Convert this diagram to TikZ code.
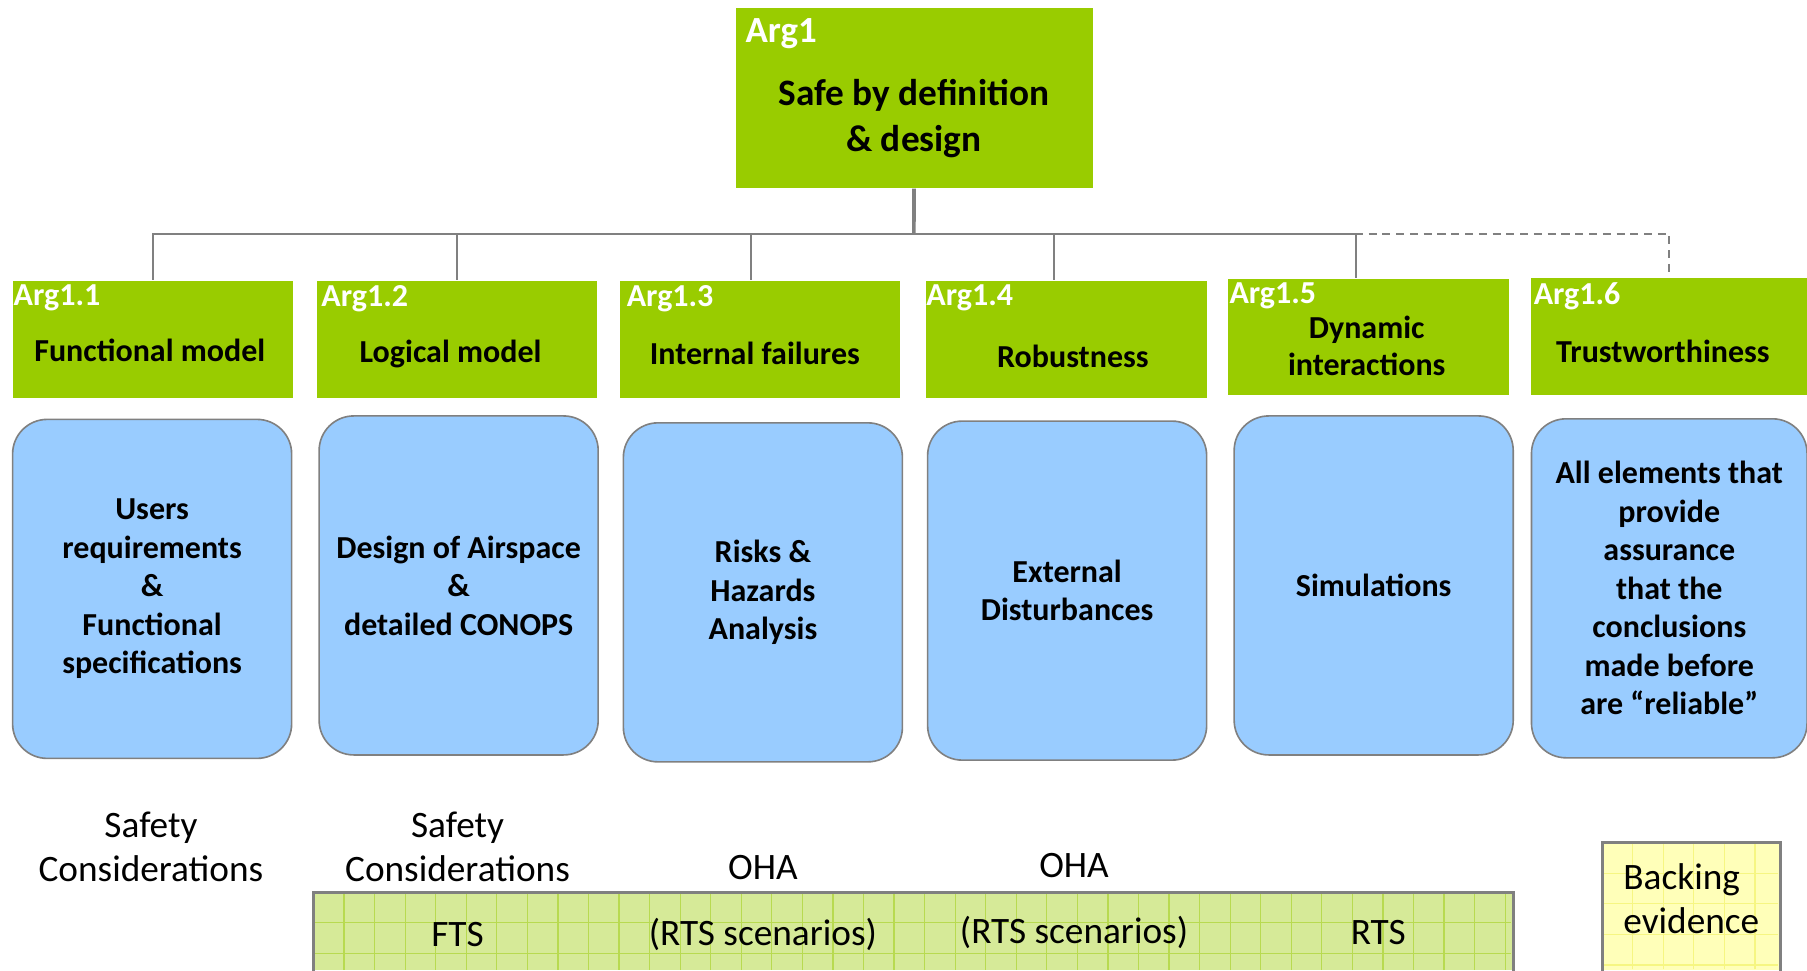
\documentclass[tikz,border=0pt]{standalone}
\usepackage{fontspec}
\setmainfont{Carlito}

\definecolor{argGreen}{RGB}{153,204,0}
\definecolor{evidBlue}{RGB}{153,204,255}
\definecolor{linkGray}{RGB}{128,128,128}
\definecolor{bandGreen}{RGB}{214,234,152}
\definecolor{bandGrid}{RGB}{184,218,80}
\definecolor{backYellow}{RGB}{255,255,185}
\definecolor{backGrid}{RGB}{246,246,130}

\begin{document}
\begin{tikzpicture}[x=0.01cm, y=-0.01cm,
    goal/.style={rectangle, fill=argGreen, inner sep=0pt,
                 minimum width=2.43cm, minimum height=1.01cm},
    arglabel/.style={anchor=north west, text=white, inner xsep=0.01cm,
                     inner ysep=0.035cm,
                     font=\bfseries\fontsize{7.9}{9}\selectfont},
    title/.style={align=center, inner sep=0pt,
                  font=\bfseries\fontsize{7.9}{9.1}\selectfont},
    evidence/.style={rectangle, rounded corners=0.3cm, draw=linkGray,
                     line width=0.4pt, fill=evidBlue, align=center,
                     minimum width=2.42cm, minimum height=2.94cm,
                     font=\bfseries\fontsize{7.9}{9.5}\selectfont},
    note/.style={align=center, inner sep=0pt,
                 font=\fontsize{9.2}{10.8}\selectfont},
    link/.style={draw=linkGray, line width=0.5pt}]

    \useasboundingbox (0,0) rectangle (1568,842);

    % Top argument

    \node (arg1) [goal, minimum width=3.09cm, minimum height=1.56cm]
          at (793.5,85) {};
    \node (arg1lbl) [arglabel, inner xsep=0.08cm, inner ysep=0.09cm,
                     font=\bfseries\fontsize{9.1}{10}\selectfont]
          at (arg1.north west) {Arg1};
    \node (arg1txt) [title, font=\bfseries\fontsize{9.2}{11.4}\selectfont]
          at (793,103) {Safe by definition\\\& design};

    % Sub-arguments

    \node (arg11) [goal] at (132.5,294.5) {};
    \node (arg11lbl) [arglabel] at (arg11.north west) {Arg1.1};
    \node (arg11txt) [title] at (130,304) {Functional model};
    \node (arg12) [goal] at (396.5,294.5) {};
    \node (arg12lbl) [arglabel, inner xsep=0.04cm] at (arg12.north west) {Arg1.2};
    \node (arg12txt) [title] at (391,307) {Logical model};
    \node (arg13) [goal] at (659.5,294.5) {};
    \node (arg13lbl) [arglabel, inner xsep=0.06cm] at (arg13.north west) {Arg1.3};
    \node (arg13txt) [title] at (655,307) {Internal failures};
    \node (arg14) [goal] at (925.5,294.5) {};
    \node (arg14lbl) [arglabel, inner xsep=0pt] at (arg14.north west) {Arg1.4};
    \node (arg14txt) [title] at (931,309) {Robustness};
    \node (arg15) [goal] at (1187.5,292.5) {};
    \node (arg15lbl) [arglabel] at (arg15.north west) {Arg1.5};
    \node (arg15txt) [title] at (1186,300) {Dynamic\\interactions};
    \node (arg16) [goal, minimum width=2.39cm] at (1448.5,292) {};
    \node (arg16lbl) [arglabel, inner xsep=0.02cm] at (arg16.north west) {Arg1.6};
    \node (arg16txt) [title] at (1443,305) {Trustworthiness};

    \coordinate (hub) at (793,203);
    \draw[link, line width=0.9pt] (arg1) -- (hub);
    \draw[link] (hub) -| (arg11);
    \draw[link] (hub) -| (arg12);
    \draw[link] (hub) -| ([xshift=-0.075cm]arg13.north);
    \draw[link] (hub) -| ([xshift=-0.105cm]arg14.north);
    \draw[link] (hub) -| ([xshift=-0.105cm]arg15.north);
    \draw[link, dash pattern=on 2pt off 1.4pt] (hub) -| (arg16);

    % Evidence

    \node (evid11) [evidence] at (132,511)
          {Users\\requirements\\\&\\Functional\\specifications};
    \node (evid12) [evidence] at (398,508)
          {Design of Airspace\\\&\\detailed CONOPS};
    \node (evid13) [evidence] at (662,514) {Risks \&\\Hazards\\Analysis};
    \node (evid14) [evidence] at (926,512.5) {External\\Disturbances};
    \node (evid15) [evidence] at (1192,508) {Simulations};
    \node (evid16) [evidence, minimum width=2.39cm] at (1448.5,510.5)
          {All elements that\\provide\\assurance\\that the\\conclusions\\made before\\are “reliable”};

    % Safety activities

    \node (safety1) [note] at (131,735) {Safety\\Considerations};
    \node (safety2) [note] at (397,735) {Safety\\Considerations};
    \node (oha1) [note] at (662,753) {OHA};
    \node (oha2) [note] at (932,751) {OHA};

    \node (band) [rectangle, fill=bandGreen, inner sep=0pt,
                  minimum width=10.39cm, minimum height=0.67cm]
          at (792.5,808.5) {};
    \begin{scope}[shift={(band.north west)}]
      \draw[bandGrid, line width=0.3pt, step=0.265cm] (0,0) grid (1039,67);
    \end{scope}
    \draw[linkGray, line width=0.8pt] (band.south west) -- (band.north west)
          -- (band.north east) -- (band.south east);
    \node (fts) [note] at (397,811) {FTS};
    \node (rtsA) [note] at (662,811) {(RTS scenarios)};
    \node (rtsB) [note] at (932,809) {(RTS scenarios)};
    \node (rts) [note] at (1196,809) {RTS};

    % Backing evidence

    \node (backing) [rectangle, fill=backYellow, inner sep=0pt,
                     minimum width=1.53cm, minimum height=1.1cm]
          at (1467.5,787) {};
    \begin{scope}[shift={(backing.north west)}]
      \draw[backGrid, line width=0.3pt, step=0.265cm] (0,0) grid (153,110);
    \end{scope}
    \draw[linkGray, line width=0.8pt] (backing.south west)
          -- (backing.north west) -- (backing.north east) -- (backing.south east);
    \node (backtxt) [note, align=left, anchor=west] at (1408,780)
          {Backing\\evidence};
\end{tikzpicture}
\end{document}
